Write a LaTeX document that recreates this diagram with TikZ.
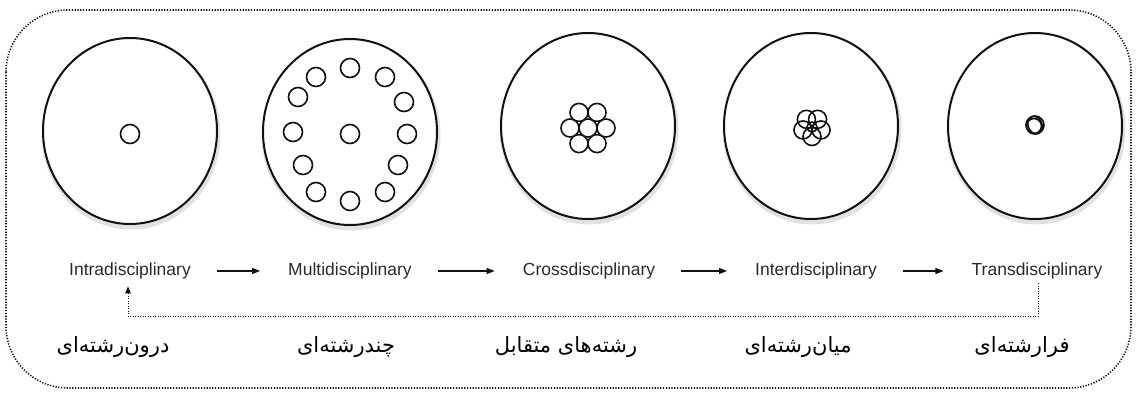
\documentclass[tikz,border=0pt]{standalone}
\usepackage{fontspec}
\setmainfont{Liberation Sans}
\newfontfamily\persianfont[Script=Arabic]{DejaVu Sans}
\TeXXeTstate=1
\usetikzlibrary{arrows.meta,shapes.geometric,calc}
\definecolor{Ink}{HTML}{111111}
\definecolor{Label}{HTML}{2A2A2A}
\definecolor{Halo}{HTML}{AAAAAA}
\tikzset{
 disc/.style={ellipse, draw=Ink, line width=2pt, fill=white, minimum width=174pt, minimum height=186pt, inner sep=0pt},
 halo/.style={draw=Halo, line width=5pt, opacity=0.35},
 dot/.style={draw=Ink, line width=1.6pt},
 term/.style={font=\fontsize{17.5}{19}\selectfont, inner sep=0pt, text=Label},
 fa/.style={font=\persianfont\fontsize{21}{24}\selectfont, inner sep=0pt},
 flow/.style={-{Triangle[length=8pt,width=6pt]}, line width=1.1pt, draw=Ink, shorten <=26pt, shorten >=28pt},
 feedback/.style={-{Triangle[length=7pt,width=5.5pt]}, line width=0.9pt, dash pattern=on 0.9pt off 1.6pt, draw=Ink},
 border/.style={draw=Ink, line width=1.6pt, dash pattern=on 1.2pt off 1.6pt, rounded corners=62pt}
}

\begin{document}
\begin{tikzpicture}[x=1pt,y=-1pt]
\useasboundingbox (0,0) rectangle (1136,392);
\draw[border] (6,10) rectangle (1131,388);
% the five fields
\foreach \n/\x/\y in {1/130/131,2/350/132,3/588/126,4/811/126,5/1035/126}{
  \draw[halo] (\x+1,\y+3) ellipse [x radius=87, y radius=93];
  \node[disc] (c\n) at (\x,\y) {};
}
\draw[dot] (130,134) circle (9.5pt);
\foreach \x/\y in {350/68,316/77,385/77,298/97,404/102,293/132,350/134,407/134,303/165,398/165,316/192,350/201,385/192}{\draw[dot] (\x,\y) circle (9.5pt);}
\draw[dot] (588,128) circle (9pt);
\foreach \a in {0,60,...,300}{\draw[dot] ($(588,128)+(\a:18)$) circle (9pt);}
\foreach \a in {90,162,234,306,18}{\draw[dot] ($(812,127)+(\a:9.5)$) circle (9pt);}
\draw[dot] (812,127) circle (5pt);
\draw[dot] (1035,125) circle (9pt);
\draw[dot] (1034,126) circle (7.5pt);
\draw[dot, rotate around={20:(1035,125)}] (1035,125) ellipse [x radius=7, y radius=9];
% labels
\node[term] (intra) at (130,271) {Intradisciplinary};
\node[term] (multi) at (350,271) {Multidisciplinary};
\node[term] (cross) at (589,271) {Crossdisciplinary};
\node[term] (inter) at (816,271) {Interdisciplinary};
\node[term] (trans) at (1037,271) {Transdisciplinary};
\draw[flow] (intra) -- (multi);
\draw[flow] (multi) -- (cross);
\draw[flow] (cross) -- (inter);
\draw[flow] (inter) -- (trans);
\draw[feedback] ([xshift=1pt,yshift=-4pt]trans.south) -- ++(0,33) -| ([xshift=-2pt,yshift=-7pt]intra.south);
\node[fa] (fa1) at (113,347) {\beginR درون^^^^200cرشته^^^^200cای\endR};
\node[fa] (fa2) at (346,347) {\beginR چندرشته^^^^200cای\endR};
\node[fa] (fa3) at (566,347) {\beginR رشته^^^^200cهای متقابل\endR};
\node[fa] (fa4) at (798,347) {\beginR میان^^^^200cرشته^^^^200cای\endR};
\node[fa] (fa5) at (1022,347) {\beginR فرارشته^^^^200cای\endR};
\end{tikzpicture}
\end{document}
